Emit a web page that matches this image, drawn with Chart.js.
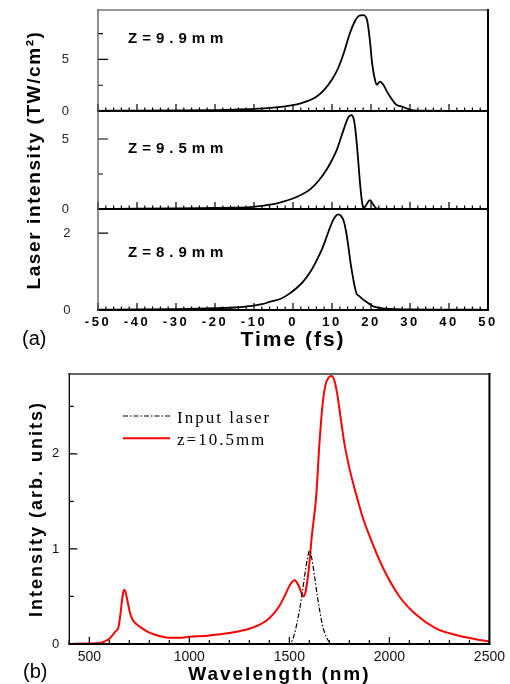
<!DOCTYPE html>
<html>
<head>
<meta charset="utf-8">
<script src="https://cdn.jsdelivr.net/npm/chart.js@4.4.1/dist/chart.umd.min.js"></script>
<style>
  html, body { margin: 0; padding: 0; background: #fff; }
  #wrap { position: relative; width: 510px; height: 684px; overflow: hidden; }
  #wrap canvas { position: absolute; left: 0; top: 0; }
</style>
</head>
<body>
<div id="wrap">
  <canvas id="z99" width="510" height="684"></canvas>
  <canvas id="z95" width="510" height="684"></canvas>
  <canvas id="z89" width="510" height="684"></canvas>
  <canvas id="spectrum" width="510" height="684"></canvas>
</div>
<script>
// (a) pulse shapes, time in fs, intensity in TW/cm2
const time99 = [-50, -40, -30, -20, -15, -10, -5, -2.5, 0, 2, 4, 6, 8, 10, 11.5, 13, 14.5, 16, 17, 18, 19, 19.7, 20.3, 21, 21.5, 22.3, 23.2, 24, 25, 26.5, 28, 29.5, 31, 33, 40, 50];
const int99 = [0.02, 0.03, 0.05, 0.09, 0.13, 0.2, 0.33, 0.43, 0.56, 0.74, 1.0, 1.38, 2.05, 3.05, 4.1, 5.6, 7.45, 8.8, 9.25, 9.3, 8.8, 6.9, 4.6, 3.05, 2.55, 2.85, 2.52, 1.95, 1.33, 0.6, 0.42, 0.2, 0.05, 0.03, 0.01, 0];

const time95 = [-50, -40, -30, -20, -15, -11, -5, -2.5, 0, 2, 4.4, 6.5, 8.6, 10, 11.2, 12.9, 14.2, 14.9, 15.5, 15.9, 16.5, 17.2, 17.7, 18.1, 18.7, 19.7, 20.6, 21.5, 25, 50];
const int95 = [0.01, 0.02, 0.04, 0.08, 0.1, 0.13, 0.35, 0.52, 0.75, 1.0, 1.4, 2.0, 2.8, 3.5, 4.2, 5.6, 6.55, 6.7, 6.5, 5.9, 4.2, 1.8, 0.5, 0.05, 0.25, 0.64, 0.3, 0.02, 0, 0];

const time89 = [-50, -40, -30, -20, -15, -11, -8, -6, -3, -1, 1, 2.6, 4.5, 6, 7.5, 8.6, 9.5, 10.3, 11, 11.7, 12.3, 13, 13.6, 14.2, 14.8, 15.5, 16.2, 17, 18, 19, 20, 21, 23, 25, 30, 40, 50];
const int89 = [0.01, 0.015, 0.025, 0.045, 0.065, 0.1, 0.15, 0.21, 0.3, 0.42, 0.58, 0.74, 1.0, 1.28, 1.6, 1.9, 2.15, 2.34, 2.45, 2.49, 2.45, 2.32, 2.05, 1.65, 1.2, 0.78, 0.45, 0.36, 0.27, 0.2, 0.13, 0.08, 0.04, 0.03, 0.015, 0.01, 0.005];

// (b) spectra, wavelength in nm
const waveIn = [1480, 1500, 1515, 1526, 1540, 1551, 1565, 1576, 1590, 1601, 1612, 1626, 1640, 1651, 1665, 1676, 1690, 1709, 1730];
const intIn = [0, 0.005, 0.04, 0.11, 0.24, 0.36, 0.55, 0.71, 0.9, 0.98, 0.9, 0.71, 0.5, 0.36, 0.2, 0.12, 0.05, 0.01, 0];

const waveOut = [400, 500, 550, 580, 600, 615, 630, 645, 655, 663, 670, 676, 683, 692, 702, 715, 735, 760, 800, 850, 900, 950, 1000, 1100, 1200, 1250, 1300, 1350, 1400, 1450, 1480, 1500, 1526, 1545, 1560, 1571, 1582, 1595, 1614, 1634, 1650, 1665, 1680, 1695, 1710, 1725, 1740, 1755, 1775, 1800, 1833, 1867, 1900, 1966, 2050, 2133, 2232, 2332, 2432, 2500];
const intOut = [0, 0.005, 0.01, 0.03, 0.055, 0.09, 0.13, 0.17, 0.3, 0.45, 0.55, 0.57, 0.53, 0.44, 0.34, 0.26, 0.21, 0.17, 0.12, 0.085, 0.065, 0.065, 0.075, 0.09, 0.115, 0.135, 0.16, 0.2, 0.27, 0.4, 0.52, 0.61, 0.67, 0.62, 0.54, 0.5, 0.56, 0.75, 1.17, 1.55, 2.1, 2.5, 2.72, 2.8, 2.82, 2.77, 2.62, 2.4, 2.11, 1.85, 1.58, 1.33, 1.14, 0.81, 0.5, 0.31, 0.165, 0.095, 0.05, 0.025];

// tick labels
const timeTickValues = [-50, -40, -30, -20, -10, 0, 10, 20, 30, 40, 50];
const waveTickValues = [500, 1000, 1500, 2000, 2500];
const yTicks99 = [0, 5];
const yTicks95 = [0, 5];
const yTicks89 = [0, 2];
const yTicksSpec = [0, 1, 2];

const SANS = '"Liberation Sans", Arial, sans-serif';
const SERIF = '"Liberation Serif", "Times New Roman", serif';
Chart.defaults.font.family = SANS;
Chart.defaults.color = '#000';

function points(xs, ys) {
    return xs.map((x, i) => ({ x: x, y: ys[i] }));
}

function fixedTicks(values) {
    return s => { s.ticks = values.map(v => ({ value: v })); };
}

// fixed axis box; label padding must not push the plot area around
function fixedWidth(w) {
    return s => { s.width = w; s.paddingTop = 0; s.paddingBottom = 0; };
}

function isMajor(v, major) {
    const r = v / major;
    return Math.abs(r - Math.round(r)) < 1e-6;
}

// frame, inward ticks, free labels and legend
const frame = {
    id: 'frame',
    beforeDraw(chart, args, o) {
        chart.ctx.letterSpacing = o.titleSpacing || '0px';
    },
    afterDatasetsDraw(chart, args, o) {
        chart.ctx.letterSpacing = o.tickSpacing || '0px';
    },
    afterDraw(chart, args, o) {
        const ctx = chart.ctx;
        const a = chart.chartArea;
        const sx = chart.scales.x, sy = chart.scales.y;
        ctx.save();
        ctx.letterSpacing = '0px';
        ctx.lineCap = 'butt';
        ctx.strokeStyle = '#000';

        if (o.xTicks) {
            const t = o.xTicks;
            ctx.lineWidth = t.width;
            ctx.beginPath();
            for (let i = Math.ceil(sx.min / t.step); i * t.step <= sx.max + 1e-9; i++) {
                const v = i * t.step;
                const px = sx.getPixelForValue(v);
                ctx.moveTo(px, a.bottom);
                ctx.lineTo(px, a.bottom - (isMajor(v, t.major) ? t.majorLen : t.minorLen));
            }
            ctx.stroke();
        }
        if (o.yTicks) {
            const t = o.yTicks;
            ctx.lineWidth = t.width;
            ctx.beginPath();
            for (let i = Math.ceil(sy.min / t.step); i * t.step <= sy.max + 1e-9; i++) {
                const v = i * t.step;
                const py = sy.getPixelForValue(v);
                ctx.moveTo(a.left, py);
                ctx.lineTo(a.left + (isMajor(v, t.major) ? t.majorLen : t.minorLen), py);
            }
            ctx.stroke();
        }

        const edges = {
            top: [a.left, a.top, a.right, a.top],
            bottom: [a.left, a.bottom, a.right, a.bottom],
            left: [a.left, a.top, a.left, a.bottom],
            right: [a.right, a.top, a.right, a.bottom]
        };
        Object.keys(edges).forEach(side => {
            const e = o[side];
            if (!e) return;
            const p = edges[side];
            const ext = e.width / 2;
            ctx.strokeStyle = e.color;
            ctx.lineWidth = e.width;
            ctx.beginPath();
            if (p[1] === p[3]) {
                ctx.moveTo(p[0] - ext, p[1]);
                ctx.lineTo(p[2] + ext, p[3]);
            } else {
                ctx.moveTo(p[0], p[1] - ext);
                ctx.lineTo(p[2], p[3] + ext);
            }
            ctx.stroke();
        });

        (o.labels || []).forEach(l => {
            ctx.font = l.font;
            ctx.letterSpacing = l.spacing || '0px';
            ctx.fillStyle = '#000';
            ctx.textAlign = 'left';
            ctx.textBaseline = 'alphabetic';
            ctx.fillText(l.text, l.x, l.y);
        });

        if (o.legend) {
            const L = o.legend;
            chart.data.datasets.forEach((ds, i) => {
                const y = L.y + i * L.rowH;
                ctx.save();
                ctx.strokeStyle = ds.borderColor;
                ctx.lineWidth = ds.borderWidth;
                ctx.setLineDash(ds.borderDash || []);
                ctx.beginPath();
                ctx.moveTo(L.x, y);
                ctx.lineTo(L.x + L.lineLen, y);
                ctx.stroke();
                ctx.restore();
                ctx.font = L.font;
                ctx.letterSpacing = L.spacing;
                ctx.fillStyle = '#000';
                ctx.textAlign = 'left';
                ctx.textBaseline = 'alphabetic';
                ctx.fillText(ds.label, L.x + L.lineLen + L.gap, y + L.textDy);
            });
        }
        ctx.restore();
    }
};

const panelEdges = {
    right: { color: '#000', width: 2 },
    bottom: { color: '#000', width: 2 },
    left: { color: '#555', width: 1.3 }
};

// one slice of panel (a)
function timeChart(id, xs, ys, area, yMax, yTickValues, yMinor, extra) {
    const showX = !!extra.xAxis;
    const xScale = Object.assign({
        type: 'linear', min: -50, max: 50, display: showX
    }, extra.xAxis || {});
    return new Chart(document.getElementById(id), {
        type: 'line',
        data: {
            datasets: [{
                data: points(xs, ys),
                borderColor: '#000',
                borderWidth: 1.8,
                pointRadius: 0,
                cubicInterpolationMode: 'monotone'
            }]
        },
        options: {
            responsive: false,
            maintainAspectRatio: false,
            animation: false,
            devicePixelRatio: 1,
            events: [],
            layout: { padding: { left: 0, right: 510 - area.right, top: area.top, bottom: area.bottom } },
            scales: {
                x: xScale,
                y: {
                    min: 0,
                    max: yMax,
                    afterFit: fixedWidth(area.left),
                    afterBuildTicks: fixedTicks(yTickValues),
                    grid: { display: false, drawTicks: false },
                    border: { display: false },
                    ticks: {
                        padding: extra.yPad || 29,
                        color: '#222',
                        font: { size: 13 },
                        z: 1,
                        callback: v => String(v)
                    },
                    title: extra.yTitle || { display: false }
                }
            },
            plugins: {
                legend: { display: false },
                tooltip: { enabled: false },
                frame: Object.assign({
                    xTicks: { step: 2, major: 10, majorLen: 7, minorLen: 3.5, width: 1.2 },
                    yTicks: { step: yMinor, major: yTickValues[1], majorLen: 10, minorLen: 5, width: 1.2 }
                }, panelEdges, extra.frame || {})
            }
        },
        plugins: [frame]
    });
}

const zFont = 'bold 15px ' + SANS;

timeChart('z99', time99, int99, { left: 98, right: 488, top: 10, bottom: 684 - 111 }, 9.8, yTicks99, 2.5, {
    frame: {
        top: { color: '#777', width: 1.3 },
        labels: [{ text: 'Z=9.9mm', x: 128, y: 43, font: zFont, spacing: '5px' }]
    }
});

timeChart('z95', time95, int95, { left: 98, right: 488, top: 111, bottom: 684 - 209 }, 7.0, yTicks95, 2.5, {
    yTitle: {
        display: true,
        text: 'Laser intensity (TW/cm²)',
        font: { size: 19, weight: 'bold' },
        padding: { top: 23, bottom: 0 }
    },
    frame: {
        titleSpacing: '1.6px',
        labels: [{ text: 'Z=9.5mm', x: 128, y: 152.5, font: zFont, spacing: '5px' }]
    }
});

timeChart('z89', time89, int89, { left: 98, right: 488, top: 209, bottom: 684 - 310 - 56 }, 2.63, yTicks89, 2, {
    yPad: 25,
    xAxis: {
        afterFit: s => { s.height = 56; },
        afterBuildTicks: fixedTicks(timeTickValues),
        grid: { display: false, drawTicks: false },
        border: { display: false },
        ticks: {
            autoSkip: false,
            maxRotation: 0,
            padding: 4.7,
            font: { size: 13, weight: 'bold' },
            z: 1,
            callback: v => String(v)
        },
        title: {
            display: true,
            text: 'Time (fs)',
            font: { size: 21, weight: 'bold' },
            padding: { top: 0, bottom: 13.1 }
        }
    },
    frame: {
        titleSpacing: '2px',
        tickSpacing: '2.5px',
        labels: [
            { text: 'Z=8.9mm', x: 128, y: 257, font: zFont, spacing: '5px' },
            { text: '(a)', x: 22, y: 345, font: '20px ' + SANS }
        ]
    }
});

// panel (b)
new Chart(document.getElementById('spectrum'), {
    type: 'line',
    data: {
        datasets: [{
            label: 'Input laser',
            data: points(waveIn, intIn),
            borderColor: '#000',
            borderWidth: 1.2,
            borderDash: [5, 2, 1.5, 2],
            pointRadius: 0,
            cubicInterpolationMode: 'monotone'
        }, {
            label: 'z=10.5mm',
            data: points(waveOut, intOut),
            borderColor: '#ff0000',
            borderWidth: 2,
            pointRadius: 0,
            cubicInterpolationMode: 'monotone'
        }]
    },
    options: {
        responsive: false,
        maintainAspectRatio: false,
        animation: false,
        devicePixelRatio: 1,
        events: [],
        layout: { padding: { left: 0, right: 19.5, top: 374, bottom: 0 } },
        scales: {
            x: {
                type: 'linear',
                min: 400,
                max: 2500,
                afterFit: s => { s.height = 40; },
                afterBuildTicks: fixedTicks(waveTickValues),
                grid: { display: false, drawTicks: false },
                border: { display: false },
                ticks: {
                    autoSkip: false,
                    maxRotation: 0,
                    padding: 5,
                    font: { size: 14 },
                    color: '#111',
                    z: 1,
                    callback: v => String(v)
                },
                title: {
                    display: true,
                    text: 'Wavelength (nm)',
                    font: { size: 19, weight: 'bold', lineHeight: 1 },
                    padding: 0
                }
            },
            y: {
                min: 0,
                max: 2.84,
                afterFit: fixedWidth(69.3),
                afterBuildTicks: fixedTicks(yTicksSpec),
                grid: { display: false, drawTicks: false },
                border: { display: false },
                ticks: {
                    padding: 10,
                    font: { size: 13 },
                    color: '#111',
                    z: 1,
                    callback: v => String(v)
                },
                title: {
                    display: true,
                    text: 'Intensity (arb. units)',
                    font: { size: 18, weight: 'bold' },
                    padding: { top: 26, bottom: 0 }
                }
            }
        },
        plugins: {
            legend: { display: false },
            tooltip: { enabled: false },
            frame: {
                titleSpacing: '2px',
                tickSpacing: '0px',
                top: { color: '#666', width: 2 },
                right: { color: '#000', width: 2 },
                bottom: { color: '#000', width: 2 },
                left: { color: '#000', width: 1.3 },
                xTicks: { step: 100, major: 500, majorLen: 7, minorLen: 4, width: 1.2 },
                yTicks: { step: 0.5, major: 1, majorLen: 8, minorLen: 4.5, width: 1.2 },
                labels: [{ text: '(b)', x: 23, y: 678, font: '20px ' + SANS }],
                legend: {
                    x: 123, y: 416, rowH: 22.3, lineLen: 47, gap: 7, textDy: 7,
                    font: '17px ' + SERIF, spacing: '2px'
                }
            }
        }
    },
    plugins: [frame]
});
</script>
</body>
</html>
